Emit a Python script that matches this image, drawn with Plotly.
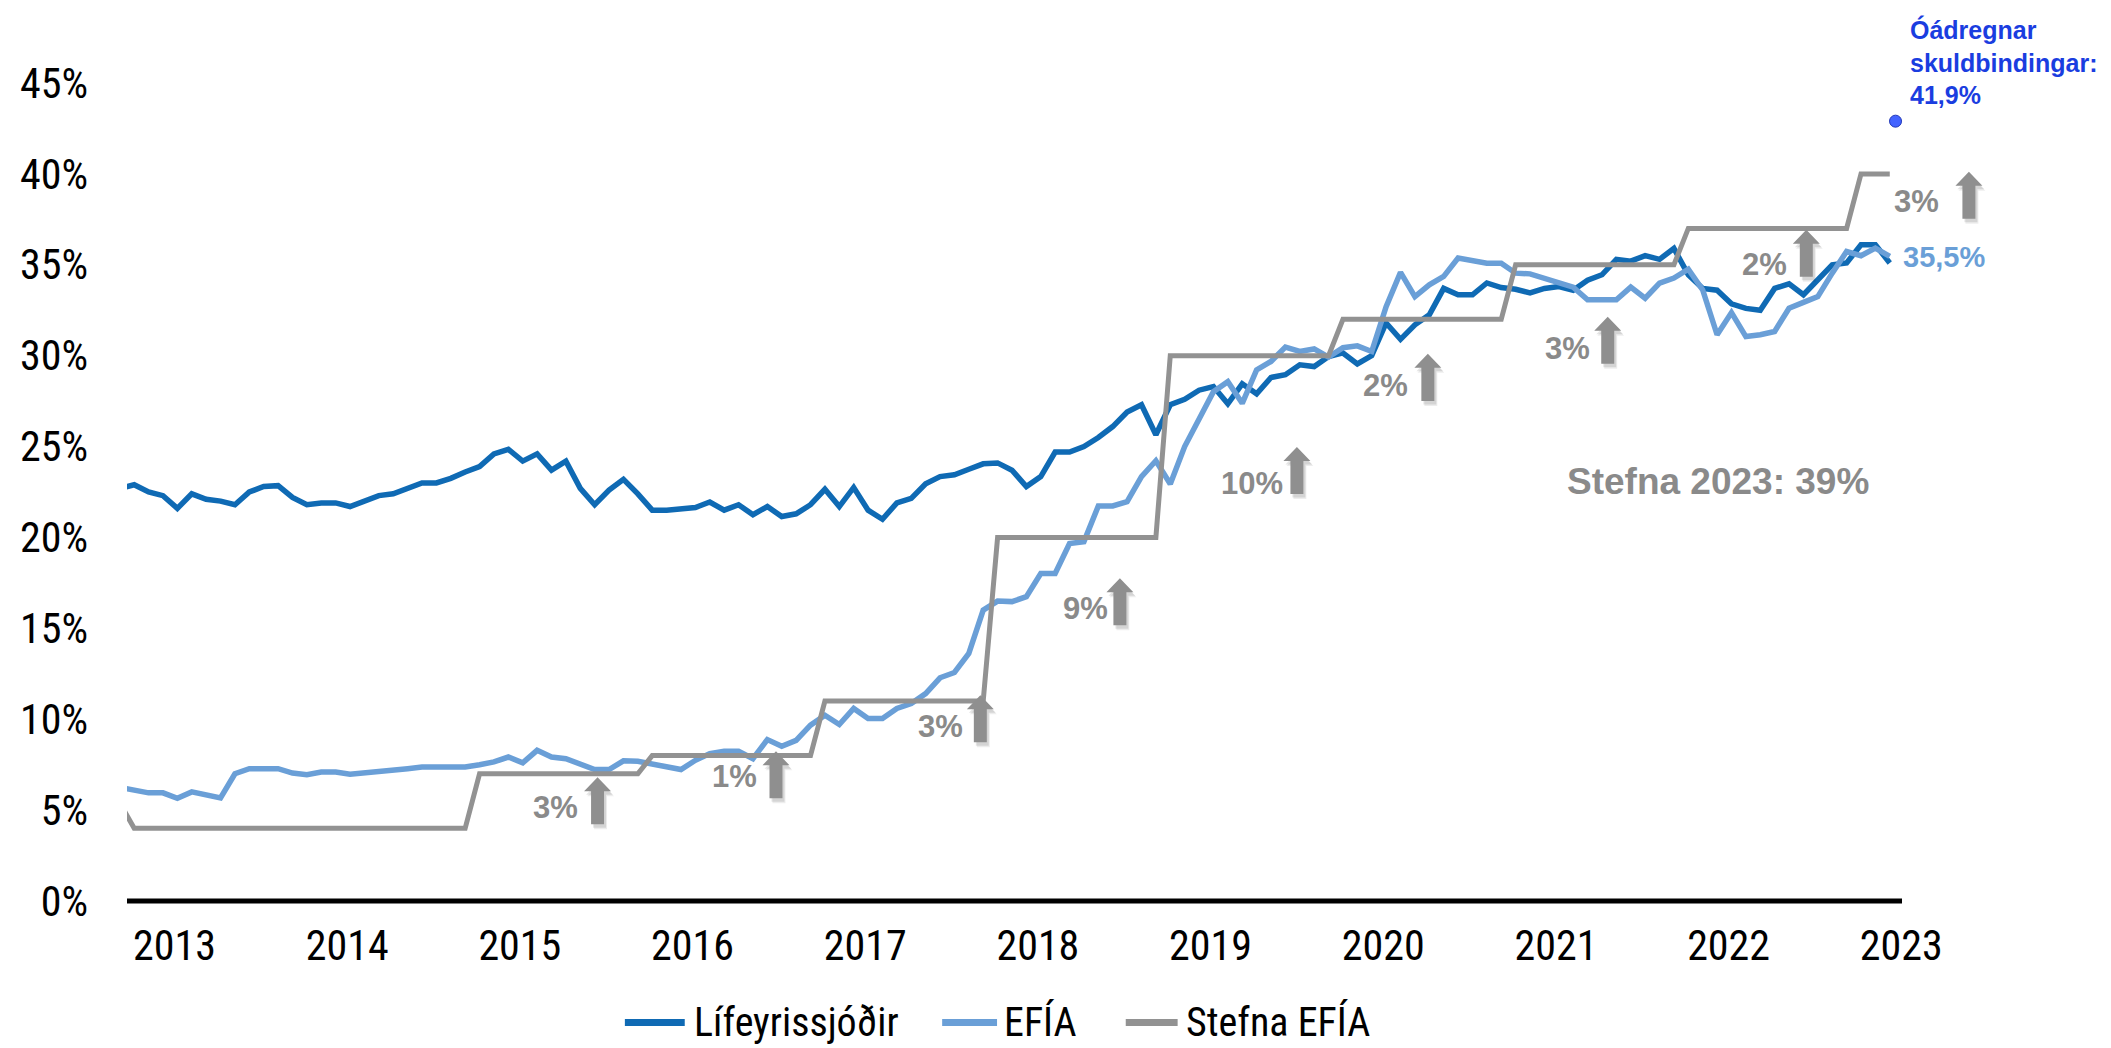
import plotly.graph_objects as go

# ---------------- data (monthly, month index 0 = Jan 2013) ----------------
months = list(range(-4, 120))

lifeyrissjodir = [
    22.7, 22.9, 22.5, 22.3, 21.6, 22.4, 22.1, 22.0, 21.8, 22.5, 22.8, 22.85,
    22.2, 21.8, 21.9, 21.9, 21.7, 22.0, 22.3, 22.4, 22.7, 23.0, 23.0, 23.25,
    23.6, 23.9, 24.6, 24.85, 24.2, 24.6, 23.7, 24.2, 22.7, 21.8, 22.6, 23.2,
    22.4, 21.5, 21.5, 21.55, 21.65, 21.95, 21.5, 21.8, 21.25, 21.7, 21.15, 21.3,
    21.8, 22.65, 21.7, 22.75, 21.5, 21.0, 21.9, 22.15, 22.95, 23.35, 23.45, 23.75,
    24.05, 24.1, 23.7, 22.8, 23.35, 24.7, 24.7, 25.0, 25.5, 26.1, 26.9, 27.3,
    25.65, 27.3, 27.6, 28.1, 28.3, 27.35, 28.45, 27.9, 28.8, 28.95, 29.5, 29.4,
    29.95, 30.15, 29.55, 30.0, 31.8, 30.9, 31.7, 32.25, 33.7, 33.35, 33.35, 34.0,
    33.75, 33.65, 33.45, 33.7, 33.8, 33.6, 34.15, 34.45, 35.3, 35.2, 35.5, 35.3,
    35.9, 34.45, 33.7, 33.6, 32.85, 32.6, 32.5, 33.7, 33.95, 33.35, 34.15, 35.0,
    35.1, 36.1, 36.1, 35.1,
]

efia = [
    6.25, 6.1, 5.95, 5.95, 5.65, 6.0, 5.87, 5.67, 7.0, 7.28, 7.28, 7.28,
    7.04, 6.95, 7.1, 7.1, 6.97, 7.04, 7.15, 7.15, 7.28, 7.37, 7.37, 7.37,
    7.37, 7.5, 7.65, 7.92, 7.6, 8.29, 7.92, 7.83, 7.5, 7.23, 7.23, 7.71,
    7.69, 7.56, 7.43, 7.23, 7.74, 8.11, 8.24, 8.24, 7.83, 8.88, 8.51, 8.84,
    9.67, 10.22, 9.71, 10.59, 10.04, 10.04, 10.59, 10.86, 11.41, 12.28, 12.57, 13.62,
    16.0, 16.5, 16.47, 16.74, 18.02, 18.02, 19.67, 19.77, 21.73, 21.73, 21.97, 23.34,
    24.22, 22.94, 25.0, 26.56, 28.02, 28.57, 27.38, 29.22, 29.68, 30.47, 30.23, 30.37,
    29.92, 30.44, 30.54, 30.23, 32.7, 34.58, 33.25, 33.9, 34.36, 35.37, 35.22, 35.09,
    35.09, 34.54, 34.5, 34.27, 33.99, 33.77, 33.07, 33.07, 33.07, 33.77, 33.16, 33.99,
    34.27, 34.76, 33.62, 31.15, 32.37, 31.05, 31.15, 31.33, 32.61, 32.93, 33.25, 34.54,
    35.73, 35.5, 35.92, 35.46,
]

stefna_efia = [
    5.4, 4, 4, 4, 4, 4, 4, 4, 4, 4, 4, 4,
    4, 4, 4, 4, 4, 4, 4, 4, 4, 4, 4, 4,
    4, 7, 7, 7, 7, 7, 7, 7, 7, 7, 7, 7,
    7, 8, 8, 8, 8, 8, 8, 8, 8, 8, 8, 8,
    8, 11, 11, 11, 11, 11, 11, 11, 11, 11, 11, 11,
    11, 20, 20, 20, 20, 20, 20, 20, 20, 20, 20, 20,
    20, 30, 30, 30, 30, 30, 30, 30, 30, 30, 30, 30,
    30, 32, 32, 32, 32, 32, 32, 32, 32, 32, 32, 32,
    32, 35, 35, 35, 35, 35, 35, 35, 35, 35, 35, 35,
    35, 37, 37, 37, 37, 37, 37, 37, 37, 37, 37, 37,
    37, 40, 40, 40,
]

unfunded_month = [119.4]
unfunded_value = [42.9]          # position of the marker as drawn
unfunded_label = "41,9%"
efia_last_label = "35,5%"
stefna_2023 = "Stefna 2023: 39%"

year_labels = ["2013", "2014", "2015", "2016", "2017", "2018",
               "2019", "2020", "2021", "2022", "2023"]
y_ticks = [0, 5, 10, 15, 20, 25, 30, 35, 40, 45]

# step-up arrows: label, month of arrow, value at arrow tip
arrow_labels = ["3%", "1%", "3%", "9%", "10%", "2%", "3%", "2%", "3%"]
arrow_months = [29.2, 41.6, 55.8, 65.5, 77.8, 86.9, 99.4, 113.2, 124.5]
arrow_tips = [6.81, 8.24, 11.32, 17.76, 24.98, 30.10, 32.14, 36.93, 40.12]

# ---------------- layout geometry ----------------
W, H = 2111, 1048
PL, PR, PT, PB = 115, 1894, 75.4, 892.6
X0, X1 = -3.5, 119.85
Y0, Y1 = 0, 45


def px_x(m):
    return PL + (m - X0) / (X1 - X0) * (PR - PL)


def px_y(v):
    return PB - (v - Y0) / (Y1 - Y0) * (PB - PT)


def pap_x(px):
    return (px - PL) / (PR - PL)


def pap_y(py):
    return (PB - py) / (PB - PT)


DARK = "#0f6ab4"
LIGHT = "#6a9fd7"
GRAY = "#929292"
TXTGRAY = "#8a8a8a"
BLUE_TXT = "#1a3de0"
NARROW = "Liberation Sans Narrow, Arial Narrow, Roboto Condensed, sans-serif"
BOLD = "Liberation Sans, Arial, sans-serif"

fig = go.Figure()
fig.add_trace(go.Scatter(x=months, y=lifeyrissjodir, mode="lines", name="Lífeyrissjóðir",
                         line=dict(color=DARK, width=5.5), showlegend=False))
fig.add_trace(go.Scatter(x=months, y=efia, mode="lines", name="EFÍA",
                         line=dict(color=LIGHT, width=5.5), showlegend=False))
fig.add_trace(go.Scatter(x=months, y=stefna_efia, mode="lines", name="Stefna EFÍA",
                         line=dict(color=GRAY, width=5), showlegend=False))
fig.add_trace(go.Scatter(x=unfunded_month, y=unfunded_value, mode="markers",
                         name="Óádregnar skuldbindingar", cliponaxis=False,
                         marker=dict(size=12, color="#4263ff",
                                     line=dict(color="#1f36b8", width=1)),
                         showlegend=False))

shapes = []
annotations = []

# zero baseline
shapes.append(dict(type="line", xref="paper", yref="paper", x0=0, x1=1, y0=0, y1=0,
                   line=dict(color="black", width=5)))

# arrows
arrow_dx = [-18, -17.5, -15.5, -9.5, -11.5, -17.5, -15.5, -17.5, -27.5]
arrow_dy = [30.5, 25.5, 31.5, 30.5, 36.5, 32, 31.5, 35, 29.5]
SHAFT, HEAD, HEADH, LEN = 13, 27, 14, 47


def arrow_path(cx, tip, ox=0.0, oy=0.0):
    pts = [
        (cx + ox, tip + oy),
        (cx + HEAD / 2 + ox, tip + HEADH + oy),
        (cx + SHAFT / 2 + ox, tip + HEADH + oy),
        (cx + SHAFT / 2 + ox, tip + LEN + oy),
        (cx - SHAFT / 2 + ox, tip + LEN + oy),
        (cx - SHAFT / 2 + ox, tip + HEADH + oy),
        (cx - HEAD / 2 + ox, tip + HEADH + oy),
    ]
    return "M" + " L".join(f"{pap_x(a):.5f},{pap_y(b):.5f}" for a, b in pts) + " Z"


for lab, m, tipv, dx, dy in zip(arrow_labels, arrow_months, arrow_tips, arrow_dx, arrow_dy):
    cx, tip = px_x(m), px_y(tipv)
    for ox, oy, a in [(3, 5, 0.07), (2, 3.5, 0.10)]:
        shapes.append(dict(type="path", xref="paper", yref="paper",
                           path=arrow_path(cx, tip, ox, oy),
                           fillcolor=f"rgba(0,0,0,{a})", line=dict(width=0)))
    shapes.append(dict(type="path", xref="paper", yref="paper", path=arrow_path(cx, tip),
                       fillcolor="#8f8f8f", line=dict(width=0)))
    annotations.append(dict(text=lab, xref="paper", yref="paper",
                            x=pap_x(cx + dx), y=pap_y(tip + dy),
                            xanchor="right", yanchor="middle", showarrow=False,
                            font=dict(family=BOLD, size=31, color=TXTGRAY, weight="bold")))

# Stefna 2023 text
annotations.append(dict(text=stefna_2023, xref="paper", yref="paper",
                        x=pap_x(1710), y=pap_y(474), xanchor="center", yanchor="middle",
                        showarrow=False,
                        font=dict(family=BOLD, size=37, color=TXTGRAY, weight="bold")))

# EFÍA last value label
annotations.append(dict(text=efia_last_label, xref="paper", yref="paper",
                        x=pap_x(1893), y=pap_y(249), xanchor="left", yanchor="middle",
                        showarrow=False,
                        font=dict(family=BOLD, size=29, color=LIGHT, weight="bold")))

# unfunded liabilities label
annotations.append(dict(text="Óádregnar<br>skuldbindingar:<br>" + unfunded_label,
                        xref="paper", yref="paper", x=pap_x(1900), y=pap_y(5),
                        xanchor="left", yanchor="top", align="left", showarrow=False,
                        font=dict(family=BOLD, size=25, color=BLUE_TXT, weight="bold")))

# manual legend
legend_items = [("Lífeyrissjóðir", DARK, 614, 674, 681),
                ("EFÍA", LIGHT, 932, 987, 992),
                ("Stefna EFÍA", GRAY, 1116, 1168, 1174)]
LEG_Y = 1014
for name, col, xa, xb, xt in legend_items:
    shapes.append(dict(type="line", xref="paper", yref="paper",
                       x0=pap_x(xa), x1=pap_x(xb), y0=pap_y(LEG_Y), y1=pap_y(LEG_Y),
                       line=dict(color=col, width=7)))
    annotations.append(dict(text=name, xref="paper", yref="paper",
                            x=pap_x(xt), y=pap_y(LEG_Y), xanchor="left", yanchor="middle",
                            showarrow=False, font=dict(family=NARROW, size=40, color="black")))

fig.update_layout(
    width=W, height=H,
    margin=dict(l=PL, r=W - PR, t=PT, b=H - PB, pad=0),
    paper_bgcolor="white", plot_bgcolor="white",
    shapes=shapes, annotations=annotations,
    showlegend=False,
    font=dict(family=NARROW, size=42, color="black"),
)
fig.update_xaxes(range=[X0, X1], showgrid=False, zeroline=False, showline=False,
                 tickmode="array",
                 tickvals=[12 * i - 0.2 for i in range(len(year_labels))],
                 ticktext=year_labels, ticks="", ticklabelstandoff=16,
                 tickfont=dict(family=NARROW, size=42, color="black"))
fig.update_yaxes(range=[Y0, Y1], showgrid=False, zeroline=False, showline=False,
                 tickmode="array", tickvals=y_ticks,
                 ticktext=[f"{v}%" for v in y_ticks], ticks="", ticklabelstandoff=38,
                 tickfont=dict(family=NARROW, size=42, color="black"))

fig.write_html("out.html")
